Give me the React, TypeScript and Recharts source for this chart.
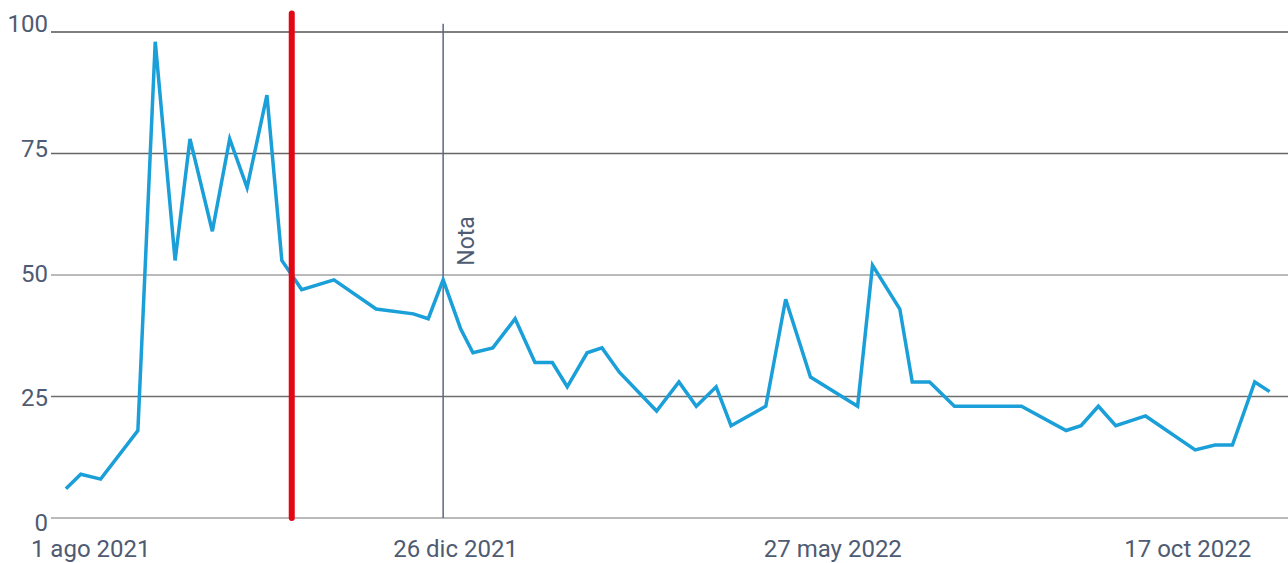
import { LineChart, Line, XAxis, YAxis, ReferenceLine } from 'recharts'

const dates = [
  '2021-07-22', '2021-07-28', '2021-08-05', '2021-08-20', '2021-08-27', '2021-09-04',
  '2021-09-10', '2021-09-19', '2021-09-26', '2021-10-03', '2021-10-11', '2021-10-17',
  '2021-10-25', '2021-11-07', '2021-11-24', '2021-12-09', '2021-12-15', '2021-12-21',
  '2021-12-28', '2022-01-02', '2022-01-10', '2022-01-19', '2022-01-27', '2022-02-03',
  '2022-02-09', '2022-02-17', '2022-02-23', '2022-03-02', '2022-03-17', '2022-03-26',
  '2022-04-02', '2022-04-10', '2022-04-16', '2022-04-30', '2022-05-08', '2022-05-18',
  '2022-06-06', '2022-06-12', '2022-06-23', '2022-06-28', '2022-07-05', '2022-07-15',
  '2022-08-11', '2022-08-29', '2022-09-04', '2022-09-11', '2022-09-18', '2022-09-30',
  '2022-10-20', '2022-10-28', '2022-11-04', '2022-11-13', '2022-11-19',
]

const values = [
  6, 9, 8, 18, 98, 53,
  78, 59, 78, 68, 87, 53,
  47, 49, 43, 42, 41, 49,
  39, 34, 35, 41, 32, 32,
  27, 34, 35, 30, 22, 28,
  23, 27, 19, 23, 45, 29,
  23, 52, 43, 28, 28, 23,
  23, 18, 19, 23, 19, 21,
  14, 15, 15, 28, 26,
]

const xTicks = ['2021-08-01', '2021-12-26', '2022-05-27', '2022-10-17']
const yTicks = [0, 25, 50, 75, 100]
const months = ['ene', 'feb', 'mar', 'abr', 'may', 'jun', 'jul', 'ago', 'sep', 'oct', 'nov', 'dic']

const noteDate = '2021-12-21'
const noteText = 'Nota'
const markerDate = '2021-10-21'

const DAY = 86400000
const origin = Date.parse('2021-08-01')
const data = dates.map((d, i) => ({ t: Date.parse(d), value: values[i] }))

const gridColor: Record<number, string> = { 0: '#a3a3a3', 25: '#6e6e6e', 50: '#a3a3a3', 75: '#666666', 100: '#555555' }
const textColor = '#4e5b72'

const fmtDate = (v: number) => {
  const d = new Date(v)
  return `${d.getUTCDate()} ${months[d.getUTCMonth()]} ${d.getUTCFullYear()}`
}

// labels drift a little against the gridlines in the original, 0 sits lowest
const YTick = (props: any) => {
  const { x, y, payload } = props
  return (
    <text x={x - 1} y={y + 13.2 - 0.133 * payload.value} textAnchor="end" fill={textColor} fontSize={24}>
      {payload.value}
    </text>
  )
}

const NoteLabel = (props: any) => {
  const { viewBox } = props
  if (!viewBox) return null
  const x = viewBox.x + 31
  const y = viewBox.y + 242
  return (
    <text x={x} y={y} transform={`rotate(-90 ${x} ${y})`} fill={textColor} fontSize={23}>
      {noteText}
    </text>
  )
}

export default function App() {
  return (
    <div style={{ position: 'absolute', left: 0, top: 0, fontFamily: 'Roboto, sans-serif', background: '#fff' }}>
      <LineChart width={1288} height={563} data={data} margin={{ top: 32, right: 0, bottom: 0, left: 0 }}>
        <XAxis
          dataKey="t"
          type="number"
          domain={[origin - 16 * DAY, origin + 482.4 * DAY]}
          ticks={xTicks.map((d) => Date.parse(d))}
          tickFormatter={fmtDate}
          interval={0}
          axisLine={false}
          tickLine={false}
          tickSize={0}
          tickMargin={22}
          height={45}
          tick={{ fill: textColor, fontSize: 24 }}
        />
        <YAxis
          type="number"
          domain={[0, 100]}
          ticks={yTicks}
          width={51}
          axisLine={false}
          tickLine={false}
          tickSize={0}
          tick={<YTick />}
        />
        {yTicks.map((v) => (
          <ReferenceLine key={v} y={v} stroke={gridColor[v]} strokeWidth={1.5} />
        ))}
        <ReferenceLine
          segment={[{ x: Date.parse(noteDate), y: 0 }, { x: Date.parse(noteDate), y: 101.7 }]}
          ifOverflow="visible"
          stroke="#5a6880"
          strokeWidth={1.5}
          label={<NoteLabel />}
        />
        <Line
          type="linear"
          dataKey="value"
          stroke="#1a9fd8"
          strokeWidth={3.5}
          dot={false}
          isAnimationActive={false}
        />
        <ReferenceLine
          segment={[{ x: Date.parse(markerDate), y: 0 }, { x: Date.parse(markerDate), y: 103.8 }]}
          ifOverflow="visible"
          stroke="#e30613"
          strokeWidth={6}
          strokeLinecap="round"
        />
      </LineChart>
    </div>
  )
}
